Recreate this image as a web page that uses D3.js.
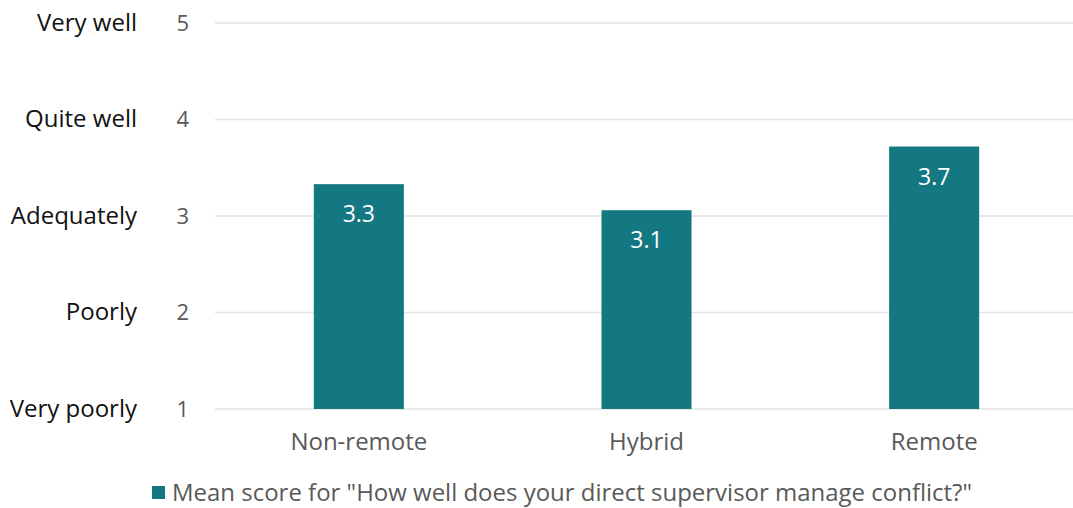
<!DOCTYPE html>
<html>
<head>
<meta charset="utf-8">
<script src="https://cdn.jsdelivr.net/npm/d3@7"></script>
<style>
  html, body { margin: 0; padding: 0; background: #fff; }
  svg { display: block; font-family: "Open Sans", "Noto Sans", sans-serif; }
</style>
</head>
<body>
<svg id="chart" width="1073" height="508"></svg>
<script>
// Mean scores by working arrangement (1 = very poorly … 5 = very well)
const categories = ["Non-remote", "Hybrid", "Remote"];
const meanScores = [3.33, 3.06, 3.72];
const tickValues = [1, 2, 3, 4, 5];
const tickNames = ["Very poorly", "Poorly", "Adequately", "Quite well", "Very well"];
const seriesName = 'Mean score for "How well does your direct supervisor manage conflict?"';

const svg = d3.select("#chart");
const margin = { left: 215, right: -5, top: 23, bottom: 99 };
const width = 1073, height = 508;

const x = d3.scaleBand()
  .domain(categories)
  .range([margin.left, width - margin.right])
  .paddingInner(0.687)
  .paddingOuter(0.3435);

const y = d3.scaleLinear()
  .domain([1, 5])
  .range([height - margin.bottom, margin.top]);

const barColor = "#137882";

// horizontal gridlines
svg.append("g")
  .selectAll("line")
  .data(tickValues)
  .join("line")
  .attr("x1", margin.left)
  .attr("x2", width)
  .attr("y1", d => y(d))
  .attr("y2", d => y(d))
  .attr("stroke", "#e3e3e3")
  .attr("stroke-width", 1.5);

// numeric y axis
const yAxis = svg.append("g")
  .attr("transform", `translate(${margin.left},0)`)
  .call(d3.axisLeft(y).tickValues(tickValues).tickFormat(d3.format("d")).tickSize(0).tickPadding(26));
yAxis.select(".domain").remove();
yAxis.selectAll("text")
  .attr("fill", "#595959")
  .attr("font-size", 22)
  .attr("font-family", "'Open Sans', sans-serif");

// descriptive labels beside the scale
svg.append("g")
  .selectAll("text")
  .data(tickValues)
  .join("text")
  .attr("x", 137)
  .attr("y", d => y(d))
  .attr("dy", "0.32em")
  .attr("text-anchor", "end")
  .attr("font-size", 24)
  .attr("fill", "#111")
  .text((d, i) => tickNames[i]);

// bars
const data = categories.map((c, i) => ({ cat: c, value: meanScores[i] }));
svg.append("g")
  .selectAll("rect")
  .data(data)
  .join("rect")
  .attr("x", d => x(d.cat))
  .attr("width", x.bandwidth())
  .attr("y", d => y(d.value))
  .attr("height", d => y(1) - y(d.value))
  .attr("fill", barColor);

// value labels inside bars
const fmt = d3.format(".1f");
svg.append("g")
  .selectAll("text")
  .data(data)
  .join("text")
  .attr("x", d => x(d.cat) + x.bandwidth() / 2)
  .attr("y", d => y(d.value) + 38)
  .attr("text-anchor", "middle")
  .attr("font-size", 23)
  .attr("fill", "#fff")
  .text(d => fmt(d.value));

// category axis
const xAxis = svg.append("g")
  .attr("transform", `translate(0,${y(1)})`)
  .call(d3.axisBottom(x).tickSize(0).tickPadding(24));
xAxis.select(".domain").remove();
xAxis.selectAll("text")
  .attr("fill", "#595959")
  .attr("font-size", 24)
  .attr("font-family", "'Open Sans', sans-serif");

// legend
const legend = svg.append("g").attr("transform", "translate(152,486)");
legend.append("rect")
  .attr("width", 13).attr("height", 13)
  .attr("fill", barColor);
legend.append("text")
  .attr("x", 20)
  .attr("y", 15)
  .attr("font-size", 23)
  .attr("fill", "#595959")
  .attr("textLength", 800)
  .attr("lengthAdjust", "spacingAndGlyphs")
  .text(seriesName);
</script>
</body>
</html>
